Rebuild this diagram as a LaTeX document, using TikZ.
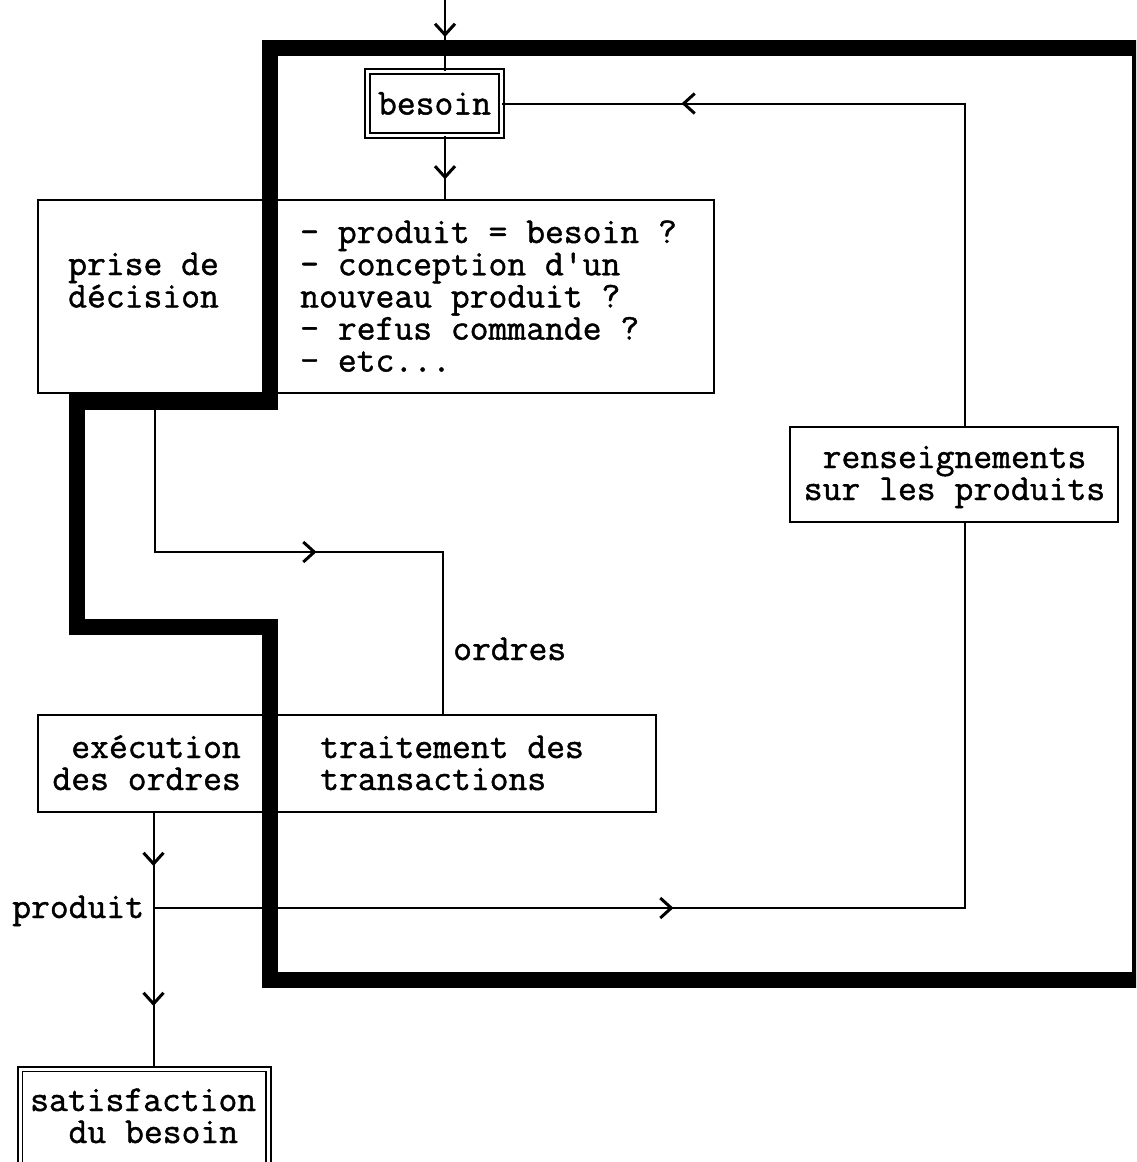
\documentclass[tikz,border=0pt]{standalone}
\usepackage{fontspec}
\newfontfamily\cmono{Latin Modern Mono}[FakeBold=1.2]
\usetikzlibrary{arrows.meta,decorations.markings,calc}
\tikzset{
  barb/.tip={Straight Barb[length=11pt,width=20pt,line width=3pt]},
  ln/.style={line width=2pt},
  box/.style={draw,line width=2pt,inner sep=0pt},
  dbox/.style={draw,double,double distance=3pt,line width=1.8pt,inner sep=0pt},
  txt/.style={inner sep=0pt,font=\cmono\fontsize{36.57}{32}\selectfont},
  band/.style={line width=16pt,line join=miter},
  tipone/.style={postaction={decorate},decoration={markings,mark=at position #1 with {\arrow{barb}}}},
  tiptwo/.style 2 args={postaction={decorate},decoration={markings,mark=at position #1 with {\arrow{barb}},mark=at position #2 with {\arrow{barb}}}},
}
\begin{document}
\begin{tikzpicture}[x=1pt,y=-1pt]
\useasboundingbox (0,0) rectangle (1136,1162);
\clip (0,0) rectangle (1136,1162);
\fill[white] (0,0) rectangle (1136,1162);

% boxes
\node[dbox,txt,minimum width=134pt,minimum height=64pt] (besoin) at (434.5,103.5) {besoin};
\node[box,minimum width=233pt,minimum height=193pt] (prise) at (154.5,296.5) {};
\node[box,minimum width=443pt,minimum height=193pt] (quest) at (492.5,296.5) {};
\node[box,minimum width=231pt,minimum height=97pt] (exec) at (153.5,763.5) {};
\node[box,minimum width=387pt,minimum height=97pt] (trait) at (462.5,763.5) {};
\node[box,minimum width=328pt,minimum height=95pt] (rens) at (954,474.5) {};
\node[dbox,minimum width=248.5pt,minimum height=130pt] (satisf) at (144.25,1134) {};

% texts
\node[txt,anchor=base west] (tquest) at (300,243) {\begin{tabular}[t]{@{}l@{}}- produit = besoin ?\\- conception d\textquotesingle un\\nouveau produit ?\\- refus commande ?\\- etc...\end{tabular}};
\node[txt,anchor=base west] (tprise) at (68,275) {\begin{tabular}[t]{@{}l@{}}prise de\\décision\end{tabular}};
\node[txt,anchor=base west] (tordres) at (453,660) {ordres};
\node[txt,anchor=base east] (texec) at (241,758) {\begin{tabular}[t]{@{}r@{}}exécution\\des ordres\end{tabular}};
\node[txt,anchor=base west] (ttrait) at (320,758) {\begin{tabular}[t]{@{}l@{}}traitement des\\transactions\end{tabular}};
\node[txt,anchor=base] (trens) at (954.5,468) {\begin{tabular}[t]{@{}c@{}}renseignements\\sur les produits\end{tabular}};
\node[txt,anchor=base west] (tprod) at (12,918) {produit};
\node[txt,anchor=base west] (tsat) at (30,1111) {\begin{tabular}[t]{@{}l@{}}satisfaction\\\hspace*{1.05em}du besoin\end{tabular}};

% connectors
\coordinate (in) at (445,0);
\coordinate (oturn) at (443,552);
\coordinate (pby) at (0,908);
\coordinate (pb) at (exec.south |- pby);
\coordinate (rturn) at (965,103.5);

\draw[ln,tipone=37pt] (in) -- (in |- besoin.north);
\draw[ln,tipone=43pt] (in |- besoin.south) -- (in |- quest.north);
\draw[ln,tipone=320pt] (prise.south) |- (oturn) -- (oturn |- trait.north);
\draw[ln,tiptwo={53pt}{193pt}] (exec.south) -- (exec.south |- satisf.north);
\draw[ln,tipone=520pt] (pb) -- (pb -| rturn) -- (rturn |- rens.south);
\draw[ln,tipone=606pt] (rturn |- rens.north) -- (rturn) -- (besoin.east);

% thick boundary
\draw[band] (270,47.5) -- (1140,47.5) -- (1140,980) -- (270,980) -- (270,627) -- (77,627) -- (77,401.5) -- (270,401.5) -- cycle;
\end{tikzpicture}
\end{document}
